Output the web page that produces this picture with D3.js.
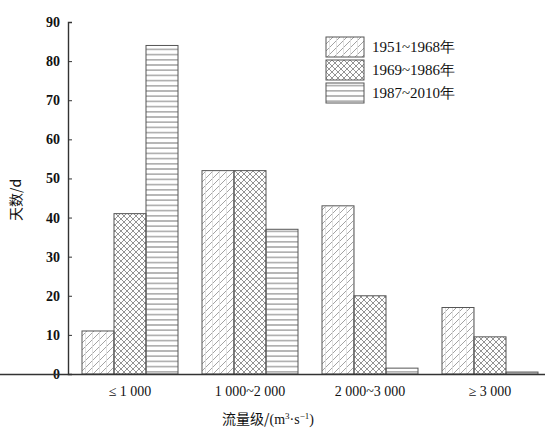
<!DOCTYPE html>
<html>
<head>
<meta charset="utf-8">
<script src="https://cdn.jsdelivr.net/npm/d3@7"></script>
<style>
  body { margin: 0; background: #fff; }
  svg text { fill: #111; }
</style>
</head>
<body>
<svg id="chart" width="547" height="437"></svg>
<script>
    var categories = ["\u2264 1 000", "1 000~2 000", "2 000~3 000", "\u2265 3 000"];
    var seriesNames = ["1951~1968\u5e74", "1969~1986\u5e74", "1987~2010\u5e74"];
    var values1951 = [11, 52, 43, 17];
    var values1969 = [41, 52, 20, 9.5];
    var values1987 = [84, 37, 1.5, 0.5];
    var yTicks = [0, 10, 20, 30, 40, 50, 60, 70, 80, 90];

    var seriesValues = [values1951, values1969, values1987];

    var svg = d3.select("#chart");
    var serif = "'Liberation Serif', 'Times New Roman', serif";
    var cjk = "'Noto Sans CJK SC', sans-serif";

    // hatch patterns
    var defs = svg.append("defs");
    var p1 = defs.append("pattern").attr("id", "pat0")
        .attr("patternUnits", "userSpaceOnUse").attr("width", 7).attr("height", 7);
    p1.append("path").attr("d", "M0,7 L7,0 M-2,2 L2,-2 M5,9 L9,5")
        .attr("stroke", "#999").attr("stroke-width", 0.9);
    p1.append("path").attr("d", "M3.5,0 V7")
        .attr("stroke", "#ddd").attr("stroke-width", 0.8);

    var p2 = defs.append("pattern").attr("id", "pat1")
        .attr("patternUnits", "userSpaceOnUse").attr("width", 6).attr("height", 6);
    p2.append("path").attr("d", "M0,6 L6,0 M-1,1 L1,-1 M5,7 L7,5 M0,0 L6,6 M-1,5 L1,7 M5,-1 L7,1")
        .attr("stroke", "#888").attr("stroke-width", 0.9);

    var p3 = defs.append("pattern").attr("id", "pat2")
        .attr("patternUnits", "userSpaceOnUse").attr("width", 6).attr("height", 5.2);
    p3.append("path").attr("d", "M0,2.6 H6")
        .attr("stroke", "#777").attr("stroke-width", 1);

    var x0 = d3.scaleBand().domain(categories).range([70, 550])
        .paddingInner(0.2).paddingOuter(0.1);
    var x1 = d3.scaleBand().domain([0, 1, 2]).range([0, x0.bandwidth()]);
    var y = d3.scaleLinear().domain([0, 90]).range([374, 22]);

    // bars
    var groups = svg.append("g").selectAll("g")
        .data(categories).join("g")
        .attr("transform", function (d) { return "translate(" + x0(d) + ",0)"; });

    groups.selectAll("rect")
        .data(function (d, i) {
            return seriesValues.map(function (vals, s) { return { s: s, v: vals[i] }; });
        })
        .join("rect")
        .attr("x", function (d) { return x1(d.s); })
        .attr("y", function (d) { return y(d.v); })
        .attr("width", x1.bandwidth())
        .attr("height", function (d) { return y(0) - y(d.v); })
        .attr("fill", function (d) { return "url(#pat" + d.s + ")"; })
        .attr("stroke", "#555")
        .attr("stroke-width", 1);

    // y axis
    var yAxis = d3.axisLeft(y).tickValues(yTicks).tickSize(-4).tickPadding(8);
    var gy = svg.append("g").attr("transform", "translate(68,0)").call(yAxis);
    gy.select(".domain").attr("stroke", "#333").attr("stroke-width", 1.4);
    gy.selectAll(".tick line").attr("stroke", "#333");
    gy.selectAll("text").attr("font-family", serif).attr("font-size", 14)
        .attr("font-weight", "bold");

    // x axis
    var xAxis = d3.axisBottom(x0).tickSize(0).tickPadding(12);
    var gx = svg.append("g").attr("transform", "translate(0,374)").call(xAxis);
    gx.select(".domain").attr("d", "M-2,0.5H545").attr("stroke", "#333").attr("stroke-width", 1.4);
    gx.selectAll("text").attr("font-family", serif).attr("font-size", 14);

    // axis titles
    svg.append("text")
        .attr("transform", "translate(21,200) rotate(-90)")
        .attr("text-anchor", "middle")
        .attr("font-family", cjk).attr("font-size", 14)
        .text("\u5929\u6570/d");

    var xt = svg.append("text")
        .attr("x", 268).attr("y", 424)
        .attr("text-anchor", "middle")
        .attr("font-family", cjk).attr("font-size", 14);
    xt.append("tspan").text("\u6d41\u91cf\u7ea7/");
    xt.append("tspan").attr("font-family", serif).text("(m");
    xt.append("tspan").attr("font-family", serif).attr("font-size", 9).attr("dy", -5).text("3");
    xt.append("tspan").attr("font-family", serif).attr("dy", 5).text("\u00b7s");
    xt.append("tspan").attr("font-family", serif).attr("font-size", 9).attr("dy", -5).text("\u22121");
    xt.append("tspan").attr("font-family", serif).attr("dy", 5).text(")");

    // legend
    var legend = svg.append("g").selectAll("g")
        .data(seriesNames).join("g")
        .attr("transform", function (d, i) { return "translate(326," + (37 + i * 23) + ")"; });
    legend.append("rect")
        .attr("width", 38).attr("height", 20)
        .attr("fill", function (d, i) { return "url(#pat" + i + ")"; })
        .attr("stroke", "#555");
    legend.append("text")
        .attr("x", 46).attr("y", 15)
        .attr("font-family", serif).attr("font-size", 15)
        .text(function (d) { return d; });
</script>
</body>
</html>
